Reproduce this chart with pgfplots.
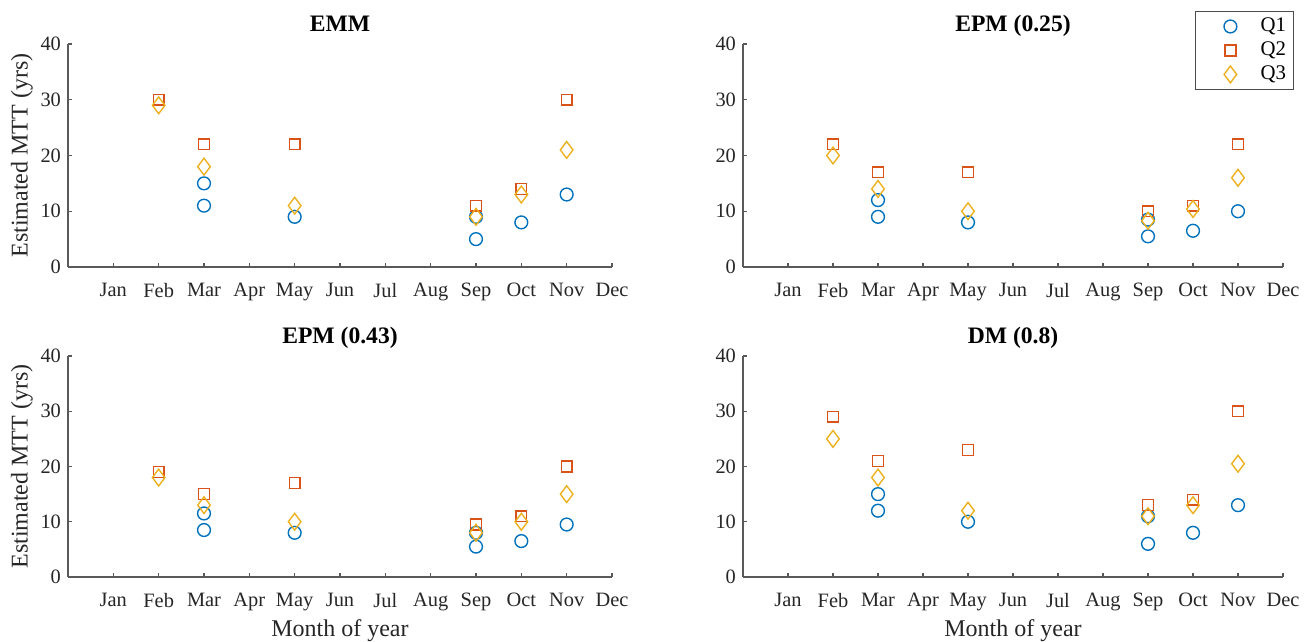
\documentclass[border=0pt]{standalone}
\usepackage{fontspec}
\setmainfont{Liberation Serif}
\usepackage{pgfplots}
\pgfplotsset{compat=1.18}
\definecolor{cQa}{rgb}{0,0.447,0.741}
\definecolor{cQb}{rgb}{0.85,0.325,0.098}
\definecolor{cQc}{rgb}{0.929,0.694,0.125}
\definecolor{axc}{rgb}{0.35,0.35,0.35}
\pgfplotsset{
  mtt/.style={
    scale only axis,
    anchor=south west,
    xmin=0, xmax=12, ymin=0, ymax=40,
    axis x line=bottom, axis y line=left,
    axis line style={-, axc, line width=0.6pt},
    tick align=inside,
    major tick length=2.2pt,
    tick style={axc, line width=0.6pt},
    xtick={1,...,12},
    xticklabels={Jan,Feb,Mar,Apr,May,Jun,Jul,Aug,Sep,Oct,Nov,Dec},
    ytick={0,10,20,30,40},
    /pgf/number format/assume math mode=true,
    ticklabel style={font=\fontsize{10.2}{12}\selectfont, text=black!85},
    xticklabel style={yshift=-4.5pt},
    title style={at={(axis description cs:0.5,1)}, anchor=base, font=\fontsize{11.8}{14}\selectfont\bfseries},
    label style={font=\fontsize{12}{14}\selectfont, text=black!85},
    clip=false,
  },
  ylab/.style={ylabel={Estimated MTT (yrs)},
    ylabel style={at={(axis description cs:-0.0846,0.5)}, anchor=center}},
  xlab/.style={xlabel={Month of year},
    xlabel style={at={(axis description cs:0.5,0)}, anchor=base, yshift=-30pt}},
  q1/.style={only marks, mark=o, mark size=3.2pt, cQa, mark options={line width=0.7pt}},
  q2/.style={only marks, mark=square, mark size=2.7pt, cQb, mark options={line width=0.7pt}},
  q3/.style={only marks, mark=diamond, mark size=4.2pt, cQc, mark options={line width=0.7pt}},
}
\begin{document}
\begin{tikzpicture}
\useasboundingbox (0,0) rectangle (655.5pt,321pt);
% EMM
\begin{axis}[mtt, at={(34pt,187.5pt)}, width=272pt, height=111.5pt,
  title={EMM}, ylab]
\addplot[q1] coordinates {(3,15)(3,11)(5,9)(9,9)(9,5)(10,8)(11,13)};
\addplot[q2] coordinates {(2,30)(3,22)(5,22)(9,11)(10,14)(11,30)};
\addplot[q3] coordinates {(2,29)(3,18)(5,11)(9,9)(10,13)(11,21)};
\end{axis}
% EPM 0.25
\begin{axis}[mtt, at={(371.5pt,187.5pt)}, width=270pt, height=111.5pt,
  title={EPM (0.25)},
  legend style={at={(1.0204,1.148)}, anchor=north east, draw=black!70, line width=0.5pt,
    font=\fontsize{10.4}{12}\selectfont, row sep=0pt, inner xsep=2pt, inner ysep=1.5pt,
    nodes={inner sep=1.8pt}},
  legend cell align=left,
  legend image code/.code={\path (0pt,0pt) (28pt,0pt); \draw[#1] plot coordinates {(15pt,0pt)};}]
\addplot[q1] coordinates {(3,12)(3,9)(5,8)(9,8.5)(9,5.5)(10,6.5)(11,10)};
\addplot[q2] coordinates {(2,22)(3,17)(5,17)(9,10)(10,11)(11,22)};
\addplot[q3] coordinates {(2,20)(3,14)(5,10)(9,8.3)(10,10.4)(11,16)};
\legend{Q1,Q2,Q3}
\end{axis}
% EPM 0.43
\begin{axis}[mtt, at={(34pt,32.5pt)}, width=272pt, height=110.5pt,
  title={EPM (0.43)}, ylab, xlab]
\addplot[q1] coordinates {(3,11.5)(3,8.5)(5,8)(9,8)(9,5.5)(10,6.5)(11,9.5)};
\addplot[q2] coordinates {(2,19)(3,15)(5,17)(9,9.5)(10,11)(11,20)};
\addplot[q3] coordinates {(2,18)(3,13)(5,10)(9,8)(10,10)(11,15)};
\end{axis}
% DM 0.8
\begin{axis}[mtt, at={(371.5pt,32.5pt)}, width=270pt, height=110.5pt,
  title={DM (0.8)}, xlab]
\addplot[q1] coordinates {(3,15)(3,12)(5,10)(9,11)(9,6)(10,8)(11,13)};
\addplot[q2] coordinates {(2,29)(3,21)(5,23)(9,13)(10,14)(11,30)};
\addplot[q3] coordinates {(2,25)(3,18)(5,12)(9,11)(10,13)(11,20.5)};
\end{axis}
\end{tikzpicture}
\end{document}
